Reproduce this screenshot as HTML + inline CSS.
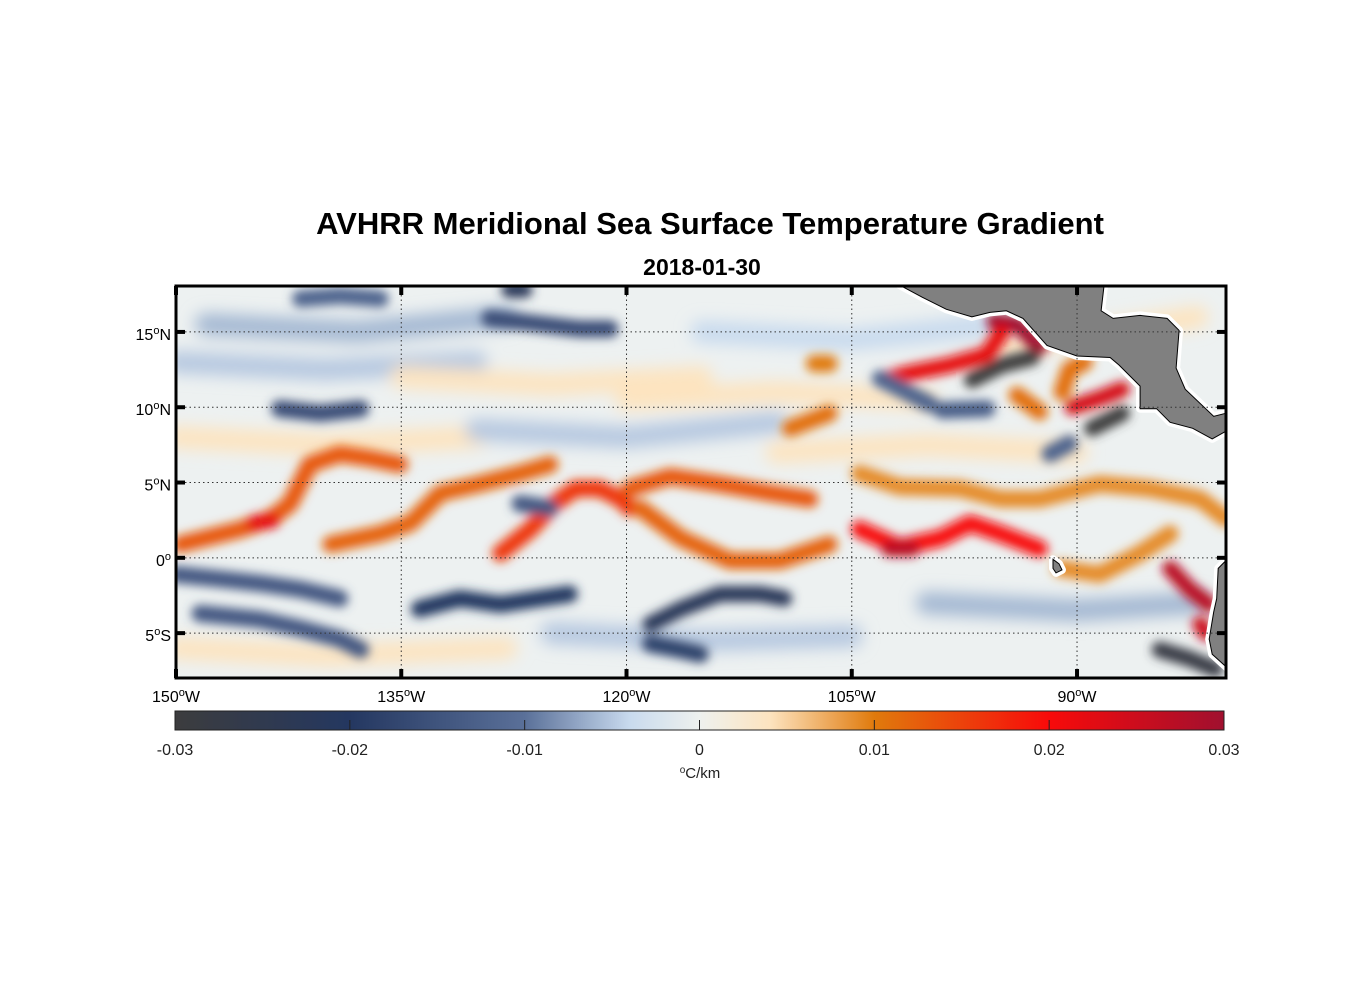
<!DOCTYPE html>
<html><head><meta charset="utf-8">
<style>
html,body{margin:0;padding:0;background:#fff;}
body{width:1356px;height:1000px;overflow:hidden;font-family:"Liberation Sans",Arial,sans-serif;}
svg text{font-family:"Liberation Sans",Arial,sans-serif;}
</style></head>
<body>
<svg id="chart" width="1356" height="1000" xmlns="http://www.w3.org/2000/svg">
<defs>
<filter id="blur" x="-20%" y="-20%" width="140%" height="140%"><feGaussianBlur stdDeviation="5"/></filter>
<filter id="blur2" x="-20%" y="-20%" width="140%" height="140%"><feGaussianBlur stdDeviation="8"/></filter>
<clipPath id="mapclip"><rect x="176" y="286" width="1050" height="392"/></clipPath>
<linearGradient id="cbgrad" x1="0" x2="1" y1="0" y2="0"></linearGradient>
</defs>
<text x="710" y="234" text-anchor="middle" font-size="31" font-weight="bold">AVHRR Meridional Sea Surface Temperature Gradient</text>
<text x="702" y="275" text-anchor="middle" font-size="23" font-weight="bold">2018-01-30</text>
<g id="map" clip-path="url(#mapclip)">
<rect x="176" y="286" width="1050" height="392" fill="#edf1f1"/>
<g id="faint" filter="url(#blur2)"></g>
<g id="bands" filter="url(#blur)"></g>
<g id="land"></g>
<g id="grid"></g>
</g>
<rect x="176" y="286" width="1050" height="392" fill="none" stroke="#000" stroke-width="3"/>
<g id="ticks"></g>
<g id="colorbar"></g>
</svg>
<script>
// ----- data -----
var lonTicks = [-150,-135,-120,-105,-90];
var latTicks = [15,10,5,0,-5];
var cbTicks = [-0.03,-0.02,-0.01,0,0.01,0.02,0.03];
var cbLabels = ["-0.03","-0.02","-0.01","0","0.01","0.02","0.03"];
var bandNames = ["A","A2","B","C","D","E","F","F2","G","H","I","I2","L","L2","J1","J2","J3","K","K2","K3","M","M2","N","O","O2","P","Q","Q2","R","W","BR","S","BL1","BL2","BL3"];
var bandLons = [
 [-149.7,-145.7,-143.7,-142.4,-141.1,-139.1,-137.1,-135.1],
 [-144.8,-143.6],
 [-139.7,-136.4,-134.4,-132.4,-129.8,-127.1,-125.1],
 [-128.4,-126.4,-124.8,-123.4,-121.8,-120.4,-119.8],
 [-119.8,-117.1,-113.8,-110.4,-107.8],
 [-119.1,-116.4,-113.1,-109.8,-106.5],
 [-104.5,-101.8,-99.1,-97.1,-95.1,-92.5],
 [-102.5,-101],
 [-104.5,-101.8,-97.8,-95.1,-92.5,-88.5,-85.2,-81.8,-80.1],
 [-91.1,-88.5,-85.8,-83.8],
 [-83.8,-82.5,-81.2],
 [-81.8,-81.4],
 [-109.1,-106.5],
 [-107.5,-106.5],
 [-95.5,-94,-92.5],
 [-103,-101,-98.5,-96,-95],
 [-97,-95,-93],
 [-90.3,-88.5,-87],
 [-91,-90.5,-89.5],
 [-94,-92.5],
 [-150,-147.1,-144.4,-141.7,-139.1],
 [-148.4,-144.4,-141.7,-139.1,-137.7],
 [-133.8,-131.1,-128.4,-125.8,-123.8],
 [-118.4,-116.4,-113.8,-111.1,-109.5],
 [-118.4,-116.4,-115.1],
 [-143.1,-140.4,-137.7],
 [-129.1,-126.4,-123.1,-121.1],
 [-127.8,-126.8],
 [-141.7,-139.1,-136.4],
 [-127.1,-125.1],
 [-84.5,-82.5,-80.8],
 [-89,-87],
 [-103.1,-99.8],
 [-91.8,-90.5],
 [-99,-96]
];
var bandLats = [
 [0.9,1.9,2.6,3.6,6.2,6.9,6.6,6.2],
 [2.3,2.5],
 [0.9,1.6,2.3,4.3,4.9,5.6,6.2],
 [0.3,1.9,3.6,4.6,4.6,3.9,3.3],
 [4.6,5.4,4.9,4.3,3.9],
 [3.3,1.3,-0.2,-0.2,0.9],
 [1.9,0.7,1.3,2.3,1.6,0.6],
 [0.6,0.6],
 [5.6,4.7,4.6,3.9,3.9,4.9,4.6,3.9,2.6],
 [-0.7,-1.1,0.3,1.6],
 [-0.7,-2.1,-3.1],
 [-4.4,-5],
 [8.6,9.6],
 [12.9,12.9],
 [15.7,15.5,14],
 [11.8,12.3,12.8,13.5,15],
 [11.8,12.8,13.3],
 [10,10.6,11.2],
 [11,12.5,13],
 [10.8,9.7],
 [-1.1,-1.4,-1.7,-2.1,-2.7],
 [-3.7,-4.1,-4.7,-5.4,-6.1],
 [-3.4,-2.7,-3.1,-2.7,-2.4],
 [-4.4,-3.4,-2.4,-2.4,-2.7],
 [-5.7,-6.1,-6.4],
 [9.9,9.6,9.9],
 [15.9,15.6,15.2,15.2],
 [17.8,17.8],
 [17.2,17.4,17.2],
 [3.6,3.3],
 [-6.1,-6.7,-7.4],
 [8.6,9.6],
 [11.9,10.2],
 [6.9,7.6],
 [9.8,9.9]
];
var bandValues = [0.013,0.022,0.012,0.016,0.013,0.012,0.02,0.027,0.009,0.009,0.027,0.025,0.011,0.01,0.03,0.022,-0.03,0.024,0.011,0.011,-0.014,-0.014,-0.02,-0.022,-0.018,-0.016,-0.016,-0.022,-0.012,-0.014,-0.028,-0.03,-0.012,-0.012,-0.013];
// faint background texture features
var faintLons = [[-150,-140,-130],[-135,-125,-115],[-115,-105,-95],[-150,-140,-130],[-130,-120,-110],[-110,-100,-90],[-150,-140,-128],[-125,-115,-105],[-100,-90,-82],[-148,-138,-128],[-120,-110,-100],[-95,-88,-82]];
var faintLats = [[13,12.5,13],[12,11.5,12],[15,14.5,15.5],[8,7.5,8],[8.5,8,9],[7,7.5,7],[-6,-6.5,-6],[-5,-5.5,-5.2],[-3,-3.5,-3],[15.5,15,16],[10.5,11,10.5],[14,15,16]];
var faintValues = [-0.005,0.004,-0.004,0.004,-0.005,0.004,0.004,-0.005,-0.006,-0.006,0.004,0.004];
var cmapVals = [-0.03,-0.02,-0.01,-0.004,0,0.004,0.01,0.02,0.03];
var cmapCols = ["#3c3c3e","#243760","#5a7099","#c8daee","#eef1ee","#fde4c0","#e07a0c","#f80a0a","#a0102f"];
var landA = [[-101.8,18.1],[-100.3,17.3],[-98.7,16.5],[-97,16],[-95.8,16.3],[-94.7,16.4],[-93.6,15.9],[-92,14.1],[-90,13.4],[-87.8,13.3],[-87.2,12.8],[-85.8,11.4],[-85.8,9.9],[-84.7,9.9],[-83.8,9.0],[-82.3,8.6],[-81,7.9],[-80.1,8.4],[-80.1,9.6],[-80.9,9.4],[-82.8,11.2],[-83.4,12.6],[-83.2,15.1],[-84,15.9],[-85.8,16.1],[-87.6,15.9],[-88.4,16.4],[-88.2,18.1]];
var landB = [[-80,-0.1],[-80.6,-0.7],[-80.7,-2.7],[-80.9,-3.6],[-81.2,-5.4],[-81,-6.4],[-80,-7.3]];
var landC = [[-91.6,-0.1],[-91.2,-0.4],[-91.0,-0.8],[-91.4,-1.0],[-91.6,-0.7]];

// ----- axes -----
var X0=176, X1=1226, Y0=286, Y1=678;
var LON0=-150, LON1=-80.08, LATT=18.05, LATB=-7.98;
function xOf(lon){return X0+(lon-LON0)/(LON1-LON0)*(X1-X0);}
function yOf(lat){return Y0+(LATT-lat)/(LATT-LATB)*(Y1-Y0);}
function hex(c){return [parseInt(c.substr(1,2),16),parseInt(c.substr(3,2),16),parseInt(c.substr(5,2),16)];}
function cmap(v){
 if(v<=cmapVals[0])return cmapCols[0];
 for(var i=1;i<cmapVals.length;i++){
  if(v<=cmapVals[i]){var t=(v-cmapVals[i-1])/(cmapVals[i]-cmapVals[i-1]);var a=hex(cmapCols[i-1]),b=hex(cmapCols[i]);
   return "rgb("+Math.round(a[0]+(b[0]-a[0])*t)+","+Math.round(a[1]+(b[1]-a[1])*t)+","+Math.round(a[2]+(b[2]-a[2])*t)+")";}
 }
 return cmapCols[cmapCols.length-1];
}
var NS="http://www.w3.org/2000/svg";
function mk(tag,attrs,parent){var e=document.createElementNS(NS,tag);for(var k in attrs)e.setAttribute(k,attrs[k]);parent.appendChild(e);return e;}
function pathOf(lons,lats){var d="";for(var j=0;j<lons.length;j++){d+=(j?"L":"M")+xOf(lons[j]).toFixed(1)+" "+yOf(lats[j]).toFixed(1);}return d;}

var fg=document.getElementById('faint');
for(var i=0;i<faintValues.length;i++){
 var p=mk('path',{d:pathOf(faintLons[i],faintLats[i]),fill:"none",stroke:cmap(faintValues[i]),"stroke-width":22,"stroke-linecap":"round","stroke-linejoin":"round"},fg);
 
 
}
var bg=document.getElementById('bands');
for(var i=0;i<bandNames.length;i++){
 var w=Math.abs(bandValues[i])>0.02?16:17;
 var p=mk('path',{d:pathOf(bandLons[i],bandLats[i]),fill:"none",stroke:cmap(bandValues[i]),"stroke-width":w,"stroke-linecap":"round","stroke-linejoin":"round"},bg);
 
 
}
var lg=document.getElementById('land');
[landA,landB,landC].forEach(function(poly,k){
 var pts=poly.map(function(q){return xOf(q[0]).toFixed(1)+","+yOf(q[1]).toFixed(1);}).join(" ");
 mk('polygon',{points:pts,fill:"#fff",stroke:"#fff","stroke-width":"8","stroke-linejoin":"round"},lg);
});
[landA,landB,landC].forEach(function(poly,k){
 var pts=poly.map(function(q){return xOf(q[0]).toFixed(1)+","+yOf(q[1]).toFixed(1);}).join(" ");
 var p=mk('polygon',{points:pts,fill:"#808080",stroke:"#000","stroke-width":"1"},lg);
 
 
});
var gg=document.getElementById('grid');
lonTicks.forEach(function(l){if(l>LON0){var x=xOf(l);var e=mk('line',{x1:x,x2:x,y1:Y0,y2:Y1,stroke:"#333","stroke-width":"1","stroke-dasharray":"1.5 3"},gg);
 
 }});
latTicks.forEach(function(l){var y=yOf(l);var e=mk('line',{x1:X0,x2:X1,y1:y,y2:y,stroke:"#333","stroke-width":"1","stroke-dasharray":"1.5 3"},gg);
 
 });
var tg=document.getElementById('ticks');
lonTicks.forEach(function(l){var x=xOf(l);
 mk('line',{x1:x,x2:x,y1:Y0,y2:Y0+9,stroke:"#000","stroke-width":"4"},tg);
 mk('line',{x1:x,x2:x,y1:Y1-9,y2:Y1,stroke:"#000","stroke-width":"4"},tg);
 var t=mk('text',{x:x,y:702,"text-anchor":"middle","font-size":"16"},tg);
 
 
 t.innerHTML=Math.abs(l)+'<tspan dy="-6" font-size="11">o</tspan><tspan dy="6">W</tspan>';
});
latTicks.forEach(function(l){var y=yOf(l);
 mk('line',{x1:X0,x2:X0+9,y1:y,y2:y,stroke:"#000","stroke-width":"4"},tg);
 mk('line',{x1:X1-9,x2:X1,y1:y,y2:y,stroke:"#000","stroke-width":"4"},tg);
 var t=mk('text',{x:171,y:y+8,"text-anchor":"end","font-size":"16"},tg);
 
 
 var suf=l>0?"N":(l<0?"S":"");
 t.innerHTML=Math.abs(l)+'<tspan dy="-6" font-size="11">o</tspan><tspan dy="6">'+suf+'</tspan>';
});
var grad=document.getElementById('cbgrad');
for(var s=0;s<=60;s++){var v=-0.03+s*0.001;mk('stop',{offset:(s/60).toFixed(4),"stop-color":cmap(v)},grad);}
var cb=document.getElementById('colorbar');
var CB0=175, CB1=1224;
function cbx(v){return CB0+(v+0.03)/0.06*(CB1-CB0);}
var r=mk('rect',{x:CB0,y:711,width:CB1-CB0,height:19,fill:"url(#cbgrad)",stroke:"#222","stroke-width":"1"},cb);


cbTicks.forEach(function(v,i){var x=cbx(v);
 if(i>0&&i<cbTicks.length-1){mk('line',{x1:x,x2:x,y1:720,y2:730,stroke:"#222","stroke-width":"1"},cb);}
 var t=mk('text',{x:x,y:755,"text-anchor":"middle","font-size":"16",fill:"#222"},cb);
 
 
 t.textContent=cbLabels[i];
});
var u=mk('text',{x:700,y:778,"text-anchor":"middle","font-size":"15",fill:"#222"},cb);


u.innerHTML='<tspan dy="-5" font-size="10">o</tspan><tspan dy="5">C/km</tspan>';
</script>
</body></html>
